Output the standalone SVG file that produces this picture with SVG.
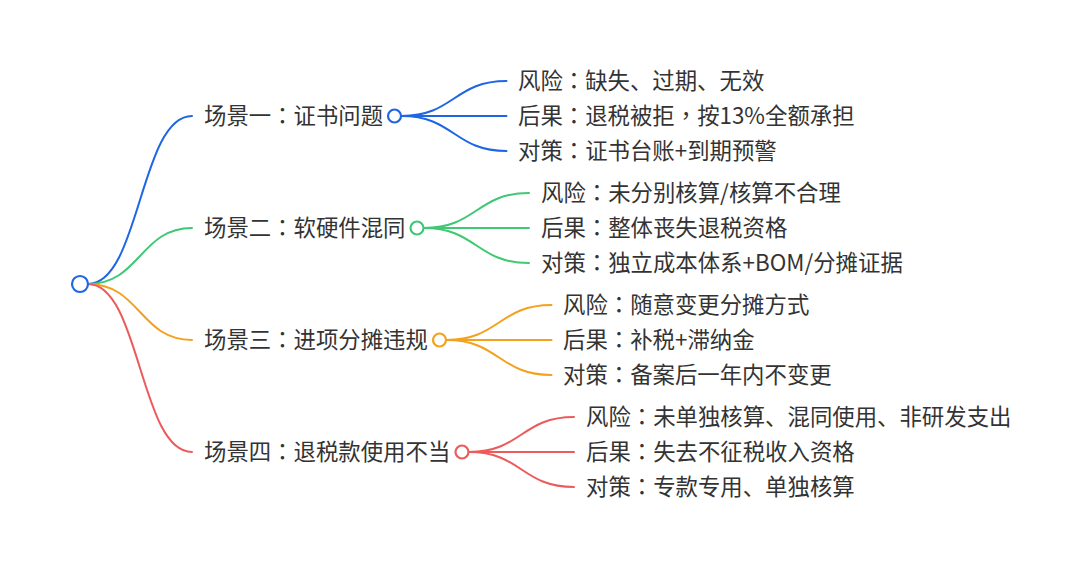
<svg xmlns="http://www.w3.org/2000/svg" width="1080" height="569" viewBox="0 0 1080 569">
<style>
text{font-family:"Noto Sans CJK SC","Noto Sans",sans-serif;font-size:22.4px;fill:#333;}
.p{font-family:"Noto Sans CJK TC","Noto Sans CJK SC",sans-serif;}
.l{fill:none;stroke-width:2;stroke-linecap:round;}
.b{stroke:#1f66e4;} .g{stroke:#3fc874;} .o{stroke:#f4a11d;} .r{stroke:#ec5b5b;}
.c{fill:#fff;stroke-width:2.2;}
</style>
<rect width="1080" height="569" fill="#fff"/>
<g id="connectors">
<path class="l b" d="M88,284 C140,284 140,116 192,116"/>
<path class="l g" d="M88,284 C140,284 140,228 192,228"/>
<path class="l o" d="M88,284 C140,284 140,340 192,340"/>
<path class="l r" d="M88,284 C140,284 140,452 192,452"/>
<path class="l b" d="M401.5,116 C454,116 454,81 506.5,81"/>
<path class="l b" d="M401.5,116 L506.5,116"/>
<path class="l b" d="M401.5,116 C454,116 454,151 506.5,151"/>
<path class="l g" d="M424,228 C476.5,228 476.5,193 529,193"/>
<path class="l g" d="M424,228 L529,228"/>
<path class="l g" d="M424,228 C476.5,228 476.5,263 529,263"/>
<path class="l o" d="M446.5,340 C499,340 499,305 551.5,305"/>
<path class="l o" d="M446.5,340 L551.5,340"/>
<path class="l o" d="M446.5,340 C499,340 499,375 551.5,375"/>
<path class="l r" d="M469,452 C521.5,452 521.5,417 574,417"/>
<path class="l r" d="M469,452 L574,452"/>
<path class="l r" d="M469,452 C521.5,452 521.5,487 574,487"/>
</g>
<g id="root"><circle class="c b" cx="80" cy="284" r="8"/></g>
<g id="scene1">
<text x="204" y="124">场景一<tspan class="p">：</tspan>证书问题</text>
<circle class="c b" cx="394.5" cy="116" r="6.5"/>
</g>
<g id="scene1-risk"><text x="518" y="89">风险<tspan class="p">：</tspan>缺失、过期、无效</text></g>
<g id="scene1-result"><text x="518" y="124">后果<tspan class="p">：</tspan>退税被拒<tspan class="p">，</tspan>按13%全额承担</text></g>
<g id="scene1-measure"><text x="518" y="159">对策<tspan class="p">：</tspan>证书台账+到期预警</text></g>
<g id="scene2">
<text x="204" y="236">场景二<tspan class="p">：</tspan>软硬件混同</text>
<circle class="c g" cx="417" cy="228" r="6.5"/>
</g>
<g id="scene2-risk"><text x="541" y="201">风险<tspan class="p">：</tspan>未分别核算/核算不合理</text></g>
<g id="scene2-result"><text x="541" y="236">后果<tspan class="p">：</tspan>整体丧失退税资格</text></g>
<g id="scene2-measure"><text x="541" y="271">对策<tspan class="p">：</tspan>独立成本体系+BOM/分摊证据</text></g>
<g id="scene3">
<text x="204" y="348">场景三<tspan class="p">：</tspan>进项分摊违规</text>
<circle class="c o" cx="439.5" cy="340" r="6.5"/>
</g>
<g id="scene3-risk"><text x="563" y="313">风险<tspan class="p">：</tspan>随意变更分摊方式</text></g>
<g id="scene3-result"><text x="563" y="348">后果<tspan class="p">：</tspan>补税+滞纳金</text></g>
<g id="scene3-measure"><text x="563" y="383">对策<tspan class="p">：</tspan>备案后一年内不变更</text></g>
<g id="scene4">
<text x="204" y="460">场景四<tspan class="p">：</tspan>退税款使用不当</text>
<circle class="c r" cx="462" cy="452" r="6.5"/>
</g>
<g id="scene4-risk"><text x="586" y="425">风险<tspan class="p">：</tspan>未单独核算、混同使用、非研发支出</text></g>
<g id="scene4-result"><text x="586" y="460">后果<tspan class="p">：</tspan>失去不征税收入资格</text></g>
<g id="scene4-measure"><text x="586" y="495">对策<tspan class="p">：</tspan>专款专用、单独核算</text></g>
</svg>
